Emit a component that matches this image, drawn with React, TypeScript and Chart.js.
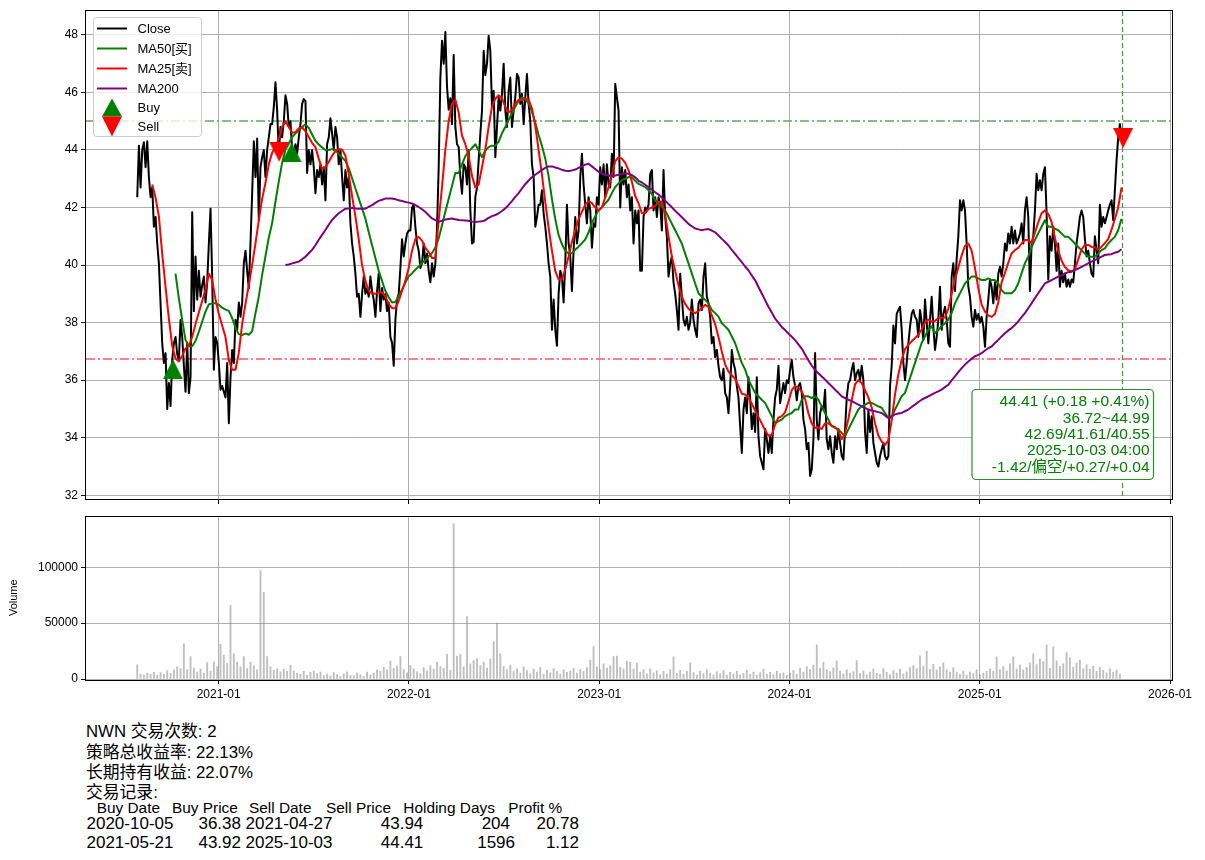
import React, { useEffect, useRef } from "react";
import { Chart, registerables } from "chart.js";

Chart.register(...registerables);

const FONT_FAMILY = "'Liberation Sans', Arial, 'Noto Sans CJK SC', sans-serif";

// ---------------- data ----------------
// Close is sampled every ~3.2 days (decimal-year step), moving averages every ~6.4 days.
const CLOSE_STEP = 0.0087535;
const MA_STEP = 0.017507;

const closeStart = 2020.572;
const closeValues = [
  42.36, 44.15, 42.7, 44.0, 44.27, 43.4, 44.3, 43.06, 42.36, 42.7,
  41.33, 41.67, 40.75, 40.06, 38.67, 37.28, 36.6, 36.94, 35.0, 35.9,
  35.1, 36.7, 37.28, 37.5, 36.9, 36.7, 38.1, 37.5, 36.5, 35.6,
  37.3, 35.55, 36.1, 41.84, 38.4, 40.3, 38.8, 39.8, 38.9, 39.3,
  39.6, 38.7, 39.4, 40.75, 41.96, 39.6, 36.36, 37.5, 37.3, 36.6,
  35.67, 35.8, 35.6, 35.4, 36.6, 34.5, 36.1, 37.05, 36.6, 38.1,
  37.75, 38.7, 38.2, 38.7, 40.06, 40.5, 39.8, 39.2, 40.75, 42.5,
  44.3, 43.06, 44.4, 41.56, 43.4, 43.75, 44.0, 43.06, 44.0, 44.44,
  44.9,
  44.9, 45.5, 46.35, 45.37, 43.87, 44.8, 44.44, 45.0, 45.9, 45.6,
  44.8, 45.0, 44.0, 43.87, 44.2, 43.87, 44.44, 44.9, 45.6, 45.77,
  45.7, 43.2, 44.0, 43.5, 44.0, 43.4, 42.5, 43.3, 43.06, 43.5,
  42.8, 43.4, 42.25, 44.2, 44.44, 45.1, 44.56, 44.0, 44.8, 44.44,
  43.5, 44.0, 43.06, 42.25, 43.3, 42.7, 43.06, 41.45, 40.75, 40.3,
  39.7, 38.9, 39.0, 38.2, 39.0, 39.6, 39.0, 39.2, 38.9, 39.6,
  39.1, 38.8, 38.2, 39.1, 39.7, 38.4, 39.2, 38.8, 39.0, 38.4,
  38.7, 37.5, 37.3, 36.5, 38.1, 38.8, 39.0, 39.9, 40.9, 40.3,
  40.75, 41.1, 41.2, 41.2, 42.0, 42.1, 41.33, 40.75, 40.5, 39.9,
  40.06, 40.75, 40.06, 40.4, 39.8, 39.4, 40.06, 39.6, 40.06, 41.3,
  43.4, 46.5, 47.8, 47.0, 48.1, 46.2, 45.4, 45.8, 44.9, 47.3,
  44.8,
  44.2, 44.1, 43.06, 42.48, 43.5, 43.4, 42.8, 44.0, 41.9, 40.75,
  40.8, 42.36, 42.7, 43.64, 44.56, 45.37, 47.45, 46.6, 47.0, 47.97,
  47.45, 45.5, 46.06, 43.75, 44.8, 45.83, 45.37, 45.95, 47.0, 45.37,
  44.8, 46.06, 46.52, 44.8, 45.37, 45.83, 46.64, 46.52, 45.6, 45.95,
  44.9, 45.83, 46.64, 45.6, 45.0, 43.5, 43.06, 41.33, 41.67, 42.1,
  42.1, 42.6, 41.8, 41.33, 40.75, 40.06, 39.6, 37.75, 38.8, 37.75,
  37.2, 39.0, 39.8, 39.6, 38.7, 40.06, 42.1, 40.75, 40.3, 39.1,
  40.5, 41.67, 40.75, 41.2, 43.06, 43.87, 42.8, 42.1, 41.45, 42.36,
  41.9, 40.6, 41.45, 41.33, 42.36, 42.1, 43.4, 42.8, 43.5, 42.36,
  43.5, 42.8, 42.7, 43.87, 43.06, 46.3, 45.83, 45.37, 42.0, 43.4,
  42.8, 43.3, 42.36, 42.8, 41.9, 42.36, 40.75, 41.9, 41.45, 41.9,
  39.8,
  39.8, 41.67, 42.0, 41.9, 42.1, 43.17, 43.3, 41.9, 42.36, 41.67,
  42.36, 42.1, 41.2, 43.3, 41.67, 40.98, 39.6, 40.06, 40.3, 39.4,
  39.0, 38.44, 37.75, 39.7, 38.9, 38.1, 37.9, 38.2, 37.75, 38.0,
  38.8, 38.1, 37.75, 37.5, 38.67, 38.8, 38.44, 39.6, 40.06, 38.9,
  38.67, 38.2, 37.28, 37.5, 36.8, 37.05, 36.5, 36.1, 36.0, 36.4,
  35.55, 35.4, 34.85, 35.8, 37.05, 36.6, 36.36, 35.8, 35.4, 34.4,
  33.47, 34.97, 35.4, 34.85, 36.1, 35.4, 34.3, 34.85, 34.2, 36.1,
  34.05, 33.36, 33.13, 32.9, 34.3, 33.94, 33.47, 34.05, 33.47, 34.63,
  35.4, 35.67, 36.5, 35.2, 35.55, 35.9, 35.55, 36.0, 35.9, 36.36,
  36.7, 36.1, 35.8, 35.3, 35.8, 35.9, 35.55, 34.63, 34.3, 33.6,
  33.82, 32.67, 32.9, 33.94, 36.94, 34.63, 33.94, 34.85,
  35.1, 34.97, 35.67, 33.94, 33.6, 34.05, 33.47, 33.13, 34.05, 33.6,
  34.3, 33.82, 33.36, 33.24, 34.3, 35.4, 35.9, 36.0, 36.36, 36.6,
  36.0, 36.24, 36.36, 36.0, 36.5, 36.0, 34.2, 33.47, 34.97, 34.2,
  34.75, 33.82, 33.47, 33.13, 33.0, 33.36, 33.6, 33.82, 33.36, 33.24,
  33.36, 35.8, 36.5, 37.9, 37.28, 38.3, 38.44, 38.55, 37.75, 36.6,
  36.0, 36.6, 37.28, 37.86, 38.3, 38.44, 38.2, 38.1, 37.5, 38.44,
  38.0, 37.4, 38.8, 38.0, 37.28, 38.1, 38.9, 37.86, 37.05, 37.5,
  38.1, 39.25, 37.75, 38.3, 38.55, 38.1, 37.28, 37.16, 39.6, 40.06,
  39.1, 40.2, 41.0, 42.25, 41.9, 42.25, 41.9, 40.75, 39.25, 38.9,
  38.2, 37.86, 38.44, 38.1, 38.3, 38.0, 38.2, 37.86, 37.16, 38.2,
  38.8, 39.5,
  39.25, 38.67, 39.4, 38.8, 39.7, 39.94, 39.6, 40.06, 40.75, 40.5,
  41.1, 40.75, 41.33, 40.75, 41.2, 40.75, 40.9, 41.1, 41.45, 40.75,
  41.9, 42.36, 41.67, 39.1, 40.75, 41.0, 41.9, 43.17, 42.6, 42.95,
  42.6, 43.17, 43.4, 41.8, 39.5, 41.0, 40.5, 41.33, 40.75, 39.8,
  40.75, 39.25, 39.8, 39.4, 39.7, 39.25, 39.5, 39.25, 39.5, 39.4,
  40.06, 40.75, 41.2, 41.67, 41.9, 41.67, 40.9, 40.3, 40.5, 40.06,
  39.7, 39.6, 41.0, 40.5, 40.06, 42.1, 41.33, 41.67, 41.45, 41.67,
  41.9, 42.1, 42.25, 41.56, 42.6, 43.64, 44.44, 44.9, 44.41,
];

const ma25Start = 2020.6506;
const ma25Values = [
  42.8, 42.35, 41.7, 40.4, 39.25, 38.15, 37.2, 36.75, 36.65, 36.85,
  37.1, 37.2, 37.5, 37.95, 38.35, 38.75, 39.15, 39.7, 39.5, 38.8,
  38.3, 37.9, 37.5, 36.7, 36.36, 36.36, 36.95, 37.95, 38.65, 39.3,
  40.0, 40.75, 41.55, 42.3, 42.85, 43.5,
  43.9, 44.1, 44.4, 44.8, 45.0, 44.8, 44.6, 44.62, 44.75, 44.79,
  44.65, 44.45, 44.25, 44.1, 43.7, 43.35, 43.4, 43.58, 43.8, 43.95,
  44.03, 44.02, 43.8, 43.15, 42.4, 41.7, 40.9, 40.0, 39.45, 39.1,
  39.0, 39.0, 39.05, 39.05, 38.9, 38.65, 38.5, 38.5, 38.75, 39.1,
  39.45, 39.9, 40.5, 40.9, 40.98, 40.85, 40.6, 40.45, 40.25, 40.25,
  41.55, 42.7, 44.0, 45.0, 45.6,
  45.75, 45.3, 44.5, 44.2, 43.8, 43.1, 42.7, 42.8, 43.4, 44.0,
  44.8, 45.5, 45.78, 45.9, 45.8, 45.5, 45.3, 45.4, 45.6, 45.75,
  45.73, 45.78, 45.75, 45.45, 44.85, 44.0, 43.15, 42.2, 41.3, 40.5,
  39.8, 39.5, 39.5, 39.85, 40.3, 40.8, 41.2, 41.6, 41.85, 42.1,
  42.22, 42.15, 42.0, 41.9, 42.0, 42.35, 42.7, 43.15, 43.6, 43.75,
  43.7, 43.55, 43.3, 42.9, 42.4, 42.15,
  41.8, 41.8, 41.95, 42.0, 42.05, 42.2, 42.2, 41.75, 41.0, 40.3,
  39.8, 39.3, 38.9, 38.65, 38.48, 38.38, 38.33, 38.4, 38.5, 38.62,
  38.55, 38.25, 37.95, 37.5, 37.0, 36.55, 36.3, 36.17, 36.05, 35.8,
  35.53, 35.5, 35.4, 35.18, 34.95, 34.72, 34.5, 34.26, 34.07, 34.1,
  34.45, 34.7, 34.75, 34.88, 35.25, 35.65, 35.8, 35.72, 35.6, 35.35,
  34.85, 34.5, 34.34, 34.36,
  34.3, 34.5, 34.5, 34.42, 34.37, 34.24, 33.95, 34.15, 34.65, 35.3,
  35.85, 36.0, 35.9, 35.65, 35.4, 35.05, 34.5, 34.08, 33.87, 33.75,
  33.9, 34.6, 35.5, 36.2, 36.7, 37.08, 37.23, 37.35, 37.46, 37.58,
  37.76, 38.0, 38.1, 38.04, 38.06, 38.16, 38.17, 38.18, 38.48, 39.0,
  39.5, 39.92, 40.33, 40.66, 40.75, 40.5, 39.9, 39.2, 38.62, 38.38,
  38.25,
  38.2, 38.3, 38.7, 39.4, 39.73, 40.08, 40.4, 40.52, 40.6, 40.75,
  40.87, 40.87, 40.76, 41.13, 41.48, 41.8, 41.9, 41.78, 41.5, 40.93,
  40.5, 40.15, 39.93, 39.82, 39.77, 39.85, 40.2, 40.54, 40.7, 40.7,
  40.63, 40.62, 40.53, 40.64, 40.76, 40.9, 41.23, 41.6, 42.0, 42.69,
];

const ma50Start = 2020.7731;
const ma50Values = [
  39.7, 38.85, 38.1, 37.4, 37.18, 37.18, 37.36, 37.68, 38.03, 38.38,
  38.63, 38.67, 38.67, 38.62, 38.52, 38.45, 38.41, 38.16, 37.82, 37.6,
  37.57, 37.62, 37.58, 37.7, 38.32, 38.9, 39.65, 40.3, 40.95,
  41.45, 42.2, 42.9, 43.55, 44.02, 44.22, 44.45, 44.57, 44.68, 44.8,
  44.89, 44.77, 44.54, 44.32, 44.19, 44.09, 44.0, 44.0, 44.03, 43.99,
  43.86, 43.74, 43.62, 43.37, 43.02, 42.67, 42.32, 41.97, 41.62, 41.15,
  40.7, 40.25, 39.8, 39.45, 39.1, 38.88, 38.7, 38.72, 38.92, 39.15,
  39.38, 39.61, 39.71, 39.84, 39.95, 40.07, 40.18, 40.3, 40.42, 40.61,
  40.92, 41.38, 41.85, 42.3, 42.75, 43.2,
  43.2, 43.5, 43.78, 43.95, 44.07, 44.2, 43.98, 43.75, 43.98, 44.1,
  44.15, 44.15, 44.28, 44.58, 44.8, 45.04, 45.27, 45.5, 45.71, 45.83,
  45.76, 45.63, 45.33, 44.96, 44.52, 44.15, 43.7, 43.1, 42.3, 41.6,
  41.05, 40.73, 40.5, 40.4, 40.41, 40.53, 40.64, 40.76, 40.89, 41.13,
  41.47, 41.69, 41.91, 42.01, 42.14, 42.27, 42.5, 42.71, 42.84, 42.95,
  43.0, 43.06, 43.05, 42.93, 42.82,
  42.77, 42.71, 42.6, 42.48, 42.25, 42.14, 42.02, 41.9, 41.67, 41.44,
  41.21, 40.98, 40.75, 40.4, 40.06, 39.71, 39.36, 39.02, 38.9, 38.79,
  38.67, 38.44, 38.33, 38.21, 37.98, 37.87, 37.75, 37.52, 37.29, 36.94,
  36.6, 36.37, 36.02, 35.79, 35.56, 35.44, 35.32, 35.21, 34.98, 34.75,
  34.52, 34.57, 34.63, 34.75, 34.81, 34.86, 34.98, 34.98, 35.32, 35.44,
  35.44, 35.38, 35.44, 35.32,
  35.09, 34.86, 34.63, 34.4, 34.34, 34.29, 34.17, 34.05, 34.29, 34.52,
  34.75, 34.98, 35.09, 35.15, 35.21, 35.21, 35.15, 35.09, 35.04, 34.86,
  34.69, 34.69, 34.98, 35.21, 35.44, 35.56, 35.9, 36.25, 36.6, 36.94,
  37.29, 37.52, 37.75, 37.87, 37.63, 37.75, 37.87, 37.98, 38.1, 38.33,
  38.67, 38.9, 39.13, 39.36, 39.48, 39.6, 39.6, 39.54, 39.48, 39.48,
  39.54,
  39.48, 39.48, 39.36, 39.13, 39.02, 39.02, 39.02, 39.13, 39.36, 39.71,
  40.06, 40.29, 40.63, 40.87, 41.1, 41.33, 41.56, 41.33, 41.33, 41.27,
  41.21, 41.1, 40.98, 40.98, 40.87, 40.75, 40.63, 40.52, 40.4, 40.29,
  40.29, 40.29, 40.4, 40.52, 40.58, 40.75, 40.87, 40.98, 41.21, 41.61,
];

const ma200Start = 2021.3509;
const ma200Values = [
  40.0, 40.02, 40.06, 40.09, 40.12, 40.2, 40.29, 40.41, 40.53, 40.69,
  40.88, 41.05, 41.22, 41.4, 41.57, 41.69, 41.8, 41.88, 41.96, 41.97,
  41.99, 41.97, 41.96, 41.96, 41.96, 42.02, 42.08, 42.16, 42.23, 42.27,
  42.31, 42.31, 42.31, 42.29, 42.25, 42.23, 42.19, 42.17, 42.14, 42.08,
  42.02, 41.94, 41.85, 41.73, 41.62, 41.56, 41.5, 41.54, 41.58, 41.6,
  41.62, 41.59,
  41.57, 41.56, 41.55, 41.54, 41.51, 41.5, 41.51, 41.52, 41.56, 41.64,
  41.7, 41.74, 41.8, 41.88, 41.97, 42.09, 42.22, 42.37, 42.5, 42.66,
  42.81, 42.94, 43.05, 43.14, 43.22, 43.31, 43.38, 43.43, 43.43, 43.39,
  43.36, 43.31, 43.28, 43.27, 43.29, 43.32, 43.38, 43.44, 43.49, 43.52,
  43.43, 43.34, 43.24, 43.19, 43.13, 43.11, 43.09, 43.11, 43.14, 43.17,
  43.19, 43.17, 43.13, 43.05, 42.93,
  42.87, 42.79, 42.7, 42.62, 42.53, 42.45, 42.35, 42.24, 42.12, 42.01,
  41.89, 41.78, 41.66, 41.55, 41.43, 41.35, 41.27, 41.24, 41.21, 41.24,
  41.25, 41.2, 41.14, 41.03, 40.91, 40.8, 40.68, 40.53, 40.39, 40.24,
  40.1, 39.95, 39.82, 39.64, 39.47, 39.24, 39.01, 38.78, 38.55, 38.35,
  38.14, 38.0, 37.85, 37.74, 37.62, 37.51, 37.39, 37.24, 37.1, 36.89,
  36.69, 36.51, 36.35, 36.24,
  36.13, 36.02, 35.9, 35.79, 35.67, 35.56, 35.44, 35.38, 35.32, 35.27,
  35.21, 35.15, 35.09, 35.04, 34.98, 34.94, 34.92, 34.89, 34.86, 34.77,
  34.69, 34.75, 34.81, 34.84, 34.86, 34.92, 34.98, 35.07, 35.15, 35.24,
  35.32, 35.38, 35.44, 35.5, 35.56, 35.61, 35.67, 35.76, 35.84, 35.99,
  36.13, 36.28, 36.42, 36.54, 36.65, 36.74, 36.83, 36.88, 36.94, 37.03,
  37.11,
  37.17, 37.29, 37.4, 37.52, 37.63, 37.73, 37.81, 37.92, 38.04, 38.19,
  38.33, 38.5, 38.67, 38.85, 39.02, 39.19, 39.36, 39.42, 39.48, 39.54,
  39.6, 39.65, 39.71, 39.75, 39.77, 39.83, 39.88, 39.94, 40.0, 40.06,
  40.12, 40.17, 40.23, 40.29, 40.35, 40.37, 40.38, 40.43, 40.46, 40.55,
];

const volumeStart = 2020.572;
const volumeValues = [
  12600, 4500, 3800, 5200, 4100, 6000, 3500, 5800, 4200, 7500, 5100, 8200, 11000, 9300,
  31400, 8500, 20000, 9800, 6200, 8900, 5400, 14800, 7200, 15300, 11200,
  31000, 21500, 14000, 65900, 22500, 15200, 11000, 20000, 9400, 15000, 12100, 8200, 97000, 77500, 20000, 10800,
  7800, 9200, 6500, 8800, 6900, 12300, 7400, 5300, 4100, 6800, 3500, 5900, 7200, 4800, 6100,
  3100, 4500, 2600, 5800, 3900, 2200, 4700, 6500, 3300, 2800, 5200, 4000, 2500, 6100, 3600,
  5400, 8100, 6900, 10500, 8200, 16000, 9500, 11800, 20000, 8700, 5600, 12300, 9100,
  6400, 4800, 10200, 7300, 12000, 8800, 15000, 11200, 9600, 22000, 7800,
  139000, 20500, 22000, 11000, 56000, 13500, 16500, 18000, 12000, 15200, 9800, 18000, 33500, 50000, 22500, 11200,
  8100, 12300, 6700, 9200, 5400, 11000, 7500, 4800, 8900, 6200, 10500, 4100, 7800, 5600, 9400,
  6900, 4500, 8300, 5900, 7200, 9600, 5200, 8500, 6800, 10200,
  17000, 29000, 11000, 8400, 13500, 9800, 12000, 20000, 20600, 10500, 8800, 16000, 15000, 9200, 14000,
  6200, 8100, 4700, 9000, 5500, 7300, 3900, 6800, 4400, 8500, 19800, 5200, 7700, 4300, 6900,
  14400, 5800, 3600, 7100, 4900, 8200, 5300, 3800, 6400, 4600, 7500, 3300, 5900, 4200, 6800,
  3700, 5100, 7900, 4500, 6300, 3400, 5700, 8800, 4100, 6000, 3900, 7200, 4800, 5500, 3200,
  5100, 7800, 4200, 9500, 6300, 11200, 8400, 12500, 30500, 9800, 15000, 8200, 6600, 10100, 16000,
  7200, 4600, 8100, 5300, 6700, 16500, 4900, 7400, 3800, 6200, 8800, 5100, 4200, 9300, 6000,
  3900, 7600, 5400, 8900, 4700, 6500, 10200,
  12000, 9400, 20700, 11500, 25000, 8600, 13200, 7900, 10800, 14400, 8200, 6300, 9900,
  5800, 4200, 7100, 3600, 6500, 4900, 8200, 3800, 5400, 6900,
  9200, 6800, 19800, 8500, 11200, 7400, 13600, 19800, 9100, 12400, 8000,
  10500, 14200, 22500, 12800, 18000, 15500, 30500, 9500, 28700, 16200, 11400, 13800, 23700, 18900, 10600,
  14300, 17000, 9200, 12600,
  8600, 11300, 6900, 10200, 7800, 5600, 9100, 6200, 8000, 4500,
];

const buyDates = ["2020-10-05", "2021-05-21"];
const buyPrices = [36.38, 43.92];
const sellDates = ["2021-04-27", "2025-10-03"];
const sellPrices = [43.94, 44.41];
const holdingDays = ["204", "1596"];
const profitPct = ["20.78", "1.12"];

const rangeHigh = 44.99;
const rangeLow = 36.72;
const lastDate = "2025-10-03";

const yearTicks = [2021, 2022, 2023, 2024, 2025, 2026];
const priceTicks = [32, 34, 36, 38, 40, 42, 44, 46, 48];
const volumeTicks = [0, 50000, 100000];

const infoLines = [
  "44.41 (+0.18 +0.41%)",
  "36.72~44.99",
  "42.69/41.61/40.55",
  "2025-10-03 04:00",
  "-1.42/偏空/+0.27/+0.04",
];
const summaryLines = ["NWN 交易次数: 2", "策略总收益率: 22.13%", "长期持有收益: 22.07%", "交易记录:"];
const tableHeaders = ["Buy Date", "Buy Price", "Sell Date", "Sell Price", "Holding Days", "Profit %"];

const legendItems = [
  { label: "Close", color: "#000000", kind: "line" },
  { label: "MA50[买]", color: "#008000", kind: "line" },
  { label: "MA25[卖]", color: "#ff0000", kind: "line" },
  { label: "MA200", color: "#800080", kind: "line" },
  { label: "Buy", color: "#008000", kind: "up" },
  { label: "Sell", color: "#ff0000", kind: "down" },
];

// ---------------- layout ----------------
const X_MIN = 2020.3027;
const X_MAX = 2026.0105;
const Y_MIN = 31.87;
const Y_MAX = 48.83;
const VOL_MAX = 145500;

function toYear(s: string) {
  const [y, m, d] = s.split("-").map(Number);
  const t = Date.UTC(y, m - 1, d);
  const a = Date.UTC(y, 0, 1);
  const b = Date.UTC(y + 1, 0, 1);
  return y + (t - a) / (b - a);
}

function series(start: number, step: number, vals: number[]) {
  return vals.map((v, i) => ({ x: start + i * step, y: v }));
}

function triangleCanvas(color: string, up: boolean) {
  const c = document.createElement("canvas");
  c.width = 20;
  c.height = 20;
  const ctx = c.getContext("2d")!;
  ctx.fillStyle = color;
  ctx.beginPath();
  if (up) {
    ctx.moveTo(10, 0);
    ctx.lineTo(20, 20);
    ctx.lineTo(0, 20);
  } else {
    ctx.moveTo(0, 0);
    ctx.lineTo(20, 0);
    ctx.lineTo(10, 20);
  }
  ctx.closePath();
  ctx.fill();
  return c;
}

function roundRectPath(ctx: CanvasRenderingContext2D, x: number, y: number, w: number, h: number, r: number) {
  ctx.beginPath();
  ctx.moveTo(x + r, y);
  ctx.lineTo(x + w - r, y);
  ctx.arcTo(x + w, y, x + w, y + r, r);
  ctx.lineTo(x + w, y + h - r);
  ctx.arcTo(x + w, y + h, x + w - r, y + h, r);
  ctx.lineTo(x + r, y + h);
  ctx.arcTo(x, y + h, x, y + h - r, r);
  ctx.lineTo(x, y + r);
  ctx.arcTo(x, y, x + r, y, r);
  ctx.closePath();
}

const framePlugin = {
  id: "frame",
  afterDraw(chart: any) {
    const { ctx, chartArea: a } = chart;
    ctx.save();
    ctx.strokeStyle = "#000";
    ctx.lineWidth = 1;
    ctx.strokeRect(Math.round(a.left) - 0.5, Math.round(a.top) - 0.5, Math.round(a.right - a.left) + 1, Math.round(a.bottom - a.top) + 1);
    ctx.restore();
  },
};

// Reference lines (range high/low and last trade date), positioned through the chart's scales.
const refLinesPlugin = {
  id: "refLines",
  beforeDatasetsDraw(chart: any) {
    const { ctx, chartArea: a, scales } = chart;
    const yHi = Math.round(scales.y.getPixelForValue(rangeHigh));
    const yLo = Math.round(scales.y.getPixelForValue(rangeLow));
    const xLast = Math.round(scales.x.getPixelForValue(toYear(lastDate))) - 0.5;
    ctx.save();
    ctx.beginPath();
    ctx.rect(a.left, a.top, a.right - a.left, a.bottom - a.top);
    ctx.clip();
    ctx.lineWidth = 1.4;
    ctx.setLineDash([9, 3, 2, 3]);
    ctx.strokeStyle = "#59ad59";
    ctx.beginPath();
    ctx.moveTo(a.left, yHi);
    ctx.lineTo(a.right, yHi);
    ctx.stroke();
    ctx.strokeStyle = "#ff5a5a";
    ctx.beginPath();
    ctx.moveTo(a.left, yLo);
    ctx.lineTo(a.right, yLo);
    ctx.stroke();
    ctx.setLineDash([5, 3]);
    ctx.strokeStyle = "#3a9a3a";
    ctx.lineWidth = 1.2;
    ctx.beginPath();
    ctx.moveTo(xLast, a.top);
    ctx.lineTo(xLast, a.bottom);
    ctx.stroke();
    ctx.restore();
  },
};

const legendPlugin = {
  id: "mplLegend",
  afterDraw(chart: any) {
    const { ctx, chartArea: a } = chart;
    const x0 = a.left + 7.5;
    const y0 = a.top + 6.5;
    ctx.save();
    roundRectPath(ctx, x0, y0, 108, 119, 3);
    ctx.fillStyle = "rgba(255,255,255,0.8)";
    ctx.fill();
    ctx.strokeStyle = "#cccccc";
    ctx.lineWidth = 1;
    ctx.stroke();
    const rowY = [11, 31, 51, 71, 90, 109];
    ctx.font = `13px ${FONT_FAMILY}`;
    ctx.textBaseline = "middle";
    ctx.textAlign = "left";
    legendItems.forEach((it, i) => {
      const cy = y0 + rowY[i];
      if (it.kind === "line") {
        ctx.strokeStyle = it.color;
        ctx.lineWidth = 2;
        ctx.beginPath();
        ctx.moveTo(x0 + 3.5, cy);
        ctx.lineTo(x0 + 33.5, cy);
        ctx.stroke();
      } else {
        const cx = x0 + 18.5;
        ctx.fillStyle = it.color;
        ctx.beginPath();
        if (it.kind === "up") {
          ctx.moveTo(cx, cy - 9);
          ctx.lineTo(cx + 10, cy + 9);
          ctx.lineTo(cx - 10, cy + 9);
        } else {
          ctx.moveTo(cx - 10, cy - 10);
          ctx.lineTo(cx + 10, cy - 10);
          ctx.lineTo(cx, cy + 10);
        }
        ctx.closePath();
        ctx.fill();
      }
      ctx.fillStyle = "#000";
      ctx.fillText(it.label, x0 + 44, cy + 0.5);
    });
    ctx.restore();
  },
};

const infoPlugin = {
  id: "infoBox",
  afterDraw(chart: any) {
    const { ctx, chartArea: a } = chart;
    const right = a.right - 18.5;
    const bottom = a.bottom - 19.5;
    const w = 181.5;
    const h = 90;
    ctx.save();
    roundRectPath(ctx, right - w, bottom - h, w, h, 4);
    ctx.fillStyle = "#ffffff";
    ctx.fill();
    ctx.strokeStyle = "#2f8f2f";
    ctx.lineWidth = 1.2;
    ctx.stroke();
    ctx.fillStyle = "#008000";
    ctx.font = `15.5px ${FONT_FAMILY}`;
    ctx.textAlign = "right";
    ctx.textBaseline = "middle";
    infoLines.forEach((t, i) => {
      ctx.fillText(t, right - 4, bottom - h + 12.5 + i * 16.4);
    });
    ctx.restore();
  },
};

const gridBase = { color: "#b0b0b0", lineWidth: 1, tickColor: "#000000", tickLength: 5, drawTicks: true };

const noPad = (s: any) => {
  s.paddingTop = 0;
  s.paddingBottom = 0;
  s.paddingLeft = 0;
  s.paddingRight = 0;
};

export default function App() {
  const mainRef = useRef<HTMLCanvasElement>(null);
  const volRef = useRef<HTMLCanvasElement>(null);

  useEffect(() => {
    Chart.defaults.font.family = FONT_FAMILY;
    Chart.defaults.color = "#000";
    const upIcon = triangleCanvas("#008000", true);
    const downIcon = triangleCanvas("#ff0000", false);

    const lineDs = (label: string, data: any[], color: string, order: number, width = 2) => ({
      type: "line",
      label,
      data,
      borderColor: color,
      backgroundColor: color,
      borderWidth: width,
      pointRadius: 0,
      pointHoverRadius: 0,
      tension: 0,
      fill: false,
      borderJoinStyle: "round",
      order,
    });

    const main = new Chart(mainRef.current!, {
      type: "line",
      data: {
        datasets: [
          {
            type: "line",
            label: "Buy",
            data: buyDates.map((d, i) => ({ x: toYear(d), y: buyPrices[i] })),
            showLine: false,
            pointStyle: upIcon,
            pointRadius: 10,
            pointHoverRadius: 10,
            order: 0,
          },
          {
            type: "line",
            label: "Sell",
            data: sellDates.map((d, i) => ({ x: toYear(d), y: sellPrices[i] })),
            showLine: false,
            pointStyle: downIcon,
            pointRadius: 10,
            pointHoverRadius: 10,
            order: 0,
          },
          lineDs("MA200", series(ma200Start, MA_STEP, ma200Values), "#800080", 1),
          lineDs("MA25[卖]", series(ma25Start, MA_STEP, ma25Values), "#ff0000", 2),
          lineDs("MA50[买]", series(ma50Start, MA_STEP, ma50Values), "#008000", 3),
          lineDs("Close", series(closeStart, CLOSE_STEP, closeValues), "#000000", 4),
        ] as any,
      },
      options: {
        animation: false,
        responsive: false,
        maintainAspectRatio: false,
        events: [],
        layout: { padding: { top: 10, right: 33, left: 0, bottom: 0 } },
        plugins: { legend: { display: false }, tooltip: { enabled: false } },
        scales: {
          x: {
            type: "linear",
            min: X_MIN,
            max: X_MAX,
            ticks: { display: false },
            grid: gridBase,
            border: { display: false },
            afterBuildTicks: (s: any) => {
              s.ticks = yearTicks.map((v) => ({ value: v }));
            },
            afterFit: (s: any) => {
              s.height = 11;
              noPad(s);
            },
          },
          y: {
            type: "linear",
            min: Y_MIN,
            max: Y_MAX,
            ticks: { font: { size: 12 }, color: "#000", padding: 3 },
            grid: gridBase,
            border: { display: false },
            afterBuildTicks: (s: any) => {
              s.ticks = priceTicks.map((v) => ({ value: v }));
            },
            afterFit: (s: any) => {
              s.width = 86;
              noPad(s);
            },
          },
        },
      } as any,
      plugins: [refLinesPlugin, framePlugin, legendPlugin, infoPlugin],
    });

    const vol = new Chart(volRef.current!, {
      type: "bar",
      data: {
        datasets: [
          {
            label: "Volume",
            data: series(volumeStart, MA_STEP, volumeValues),
            backgroundColor: "rgba(128,128,128,0.5)",
            borderWidth: 0,
            barThickness: 1.2,
          },
        ] as any,
      },
      options: {
        animation: false,
        responsive: false,
        maintainAspectRatio: false,
        events: [],
        layout: { padding: { top: 11.5, right: 33, left: 0, bottom: 0 } },
        plugins: { legend: { display: false }, tooltip: { enabled: false } },
        scales: {
          x: {
            type: "linear",
            min: X_MIN,
            max: X_MAX,
            offset: false,
            ticks: { font: { size: 12 }, color: "#000", padding: 3, maxRotation: 0, callback: (v: any) => `${v}-01` },
            grid: { ...gridBase, offset: false },
            border: { display: false },
            afterBuildTicks: (s: any) => {
              s.ticks = yearTicks.map((v) => ({ value: v }));
            },
            afterFit: (s: any) => {
              s.height = 26;
              noPad(s);
            },
          },
          y: {
            type: "linear",
            min: 0,
            max: VOL_MAX,
            ticks: { font: { size: 12 }, color: "#000", padding: 3, callback: (v: any) => String(v) },
            title: { display: true, text: "Volume", font: { size: 11 }, color: "#000", padding: { top: 7, bottom: 0 } },
            grid: gridBase,
            border: { display: false },
            afterBuildTicks: (s: any) => {
              s.ticks = volumeTicks.map((v) => ({ value: v }));
            },
            afterFit: (s: any) => {
              s.width = 86;
              noPad(s);
            },
          },
        },
      } as any,
      plugins: [framePlugin],
    });

    return () => {
      main.destroy();
      vol.destroy();
    };
  }, []);

  const lineStyle = (left: number, top: number, size = 17, extra: any = {}) => ({
    position: "absolute" as const,
    left,
    top,
    font: `${size}px ${FONT_FAMILY}`,
    lineHeight: "20px",
    whiteSpace: "pre" as const,
    color: "#000",
    ...extra,
  });
  const rightCell = (right: number, top: number, text: string, key: string) => (
    <div key={key} style={lineStyle(right - 150, top, 17, { width: 150, textAlign: "right" })}>
      {text}
    </div>
  );

  const summaryTops = [722, 743, 763, 783];
  const headerLefts = [96.7, 172, 249, 326, 403.3, 508.3];
  const rowTops = [814, 832.5];
  const daysRights = [510, 515];

  return (
    <div style={{ position: "absolute", left: 0, top: 0, width: 1205, height: 860, background: "#fff", overflow: "hidden" }}>
      <canvas ref={mainRef} width={1205} height={510} style={{ position: "absolute", left: 0, top: 0 }} />
      <canvas ref={volRef} width={1205} height={200} style={{ position: "absolute", left: 0, top: 505 }} />
      {summaryLines.map((t, i) => (
        <div key={"s" + i} style={lineStyle(86, summaryTops[i], 16.8)}>
          {t}
        </div>
      ))}
      {tableHeaders.map((t, i) => (
        <div key={"h" + i} style={lineStyle(headerLefts[i], 798, 15.4)}>
          {t}
        </div>
      ))}
      {buyDates.map((d, i) => (
        <React.Fragment key={"r" + i}>
          <div style={lineStyle(86.5, rowTops[i])}>{d}</div>
          {rightCell(241, rowTops[i], buyPrices[i].toFixed(2), "bp")}
          <div style={lineStyle(245.5, rowTops[i])}>{sellDates[i]}</div>
          {rightCell(423.3, rowTops[i], sellPrices[i].toFixed(2), "sp")}
          {rightCell(daysRights[i], rowTops[i], holdingDays[i], "hd")}
          {rightCell(579, rowTops[i], profitPct[i], "pp")}
        </React.Fragment>
      ))}
    </div>
  );
}
